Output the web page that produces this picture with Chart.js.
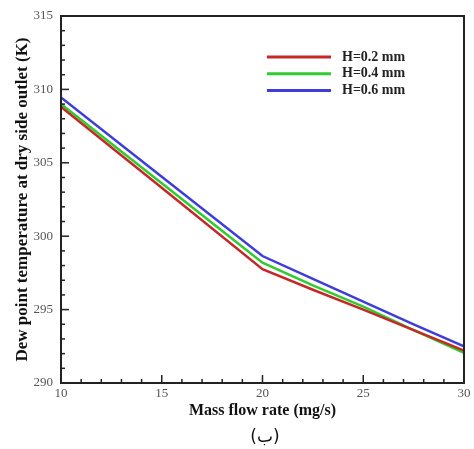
<!DOCTYPE html>
<html>
<head>
<meta charset="utf-8">
<script src="https://cdn.jsdelivr.net/npm/chart.js@4"></script>
<style>
  body { margin: 0; background: #fff; }
  #wrap { position: relative; width: 474px; height: 449px; }
  #chart { display: block; }
  #caption { position: absolute; left: 240px; top: 426px; width: 50px; text-align: center;
             font: 17px "DejaVu Sans", sans-serif; color: #111; }
</style>
</head>
<body>
<div id="wrap">
  <canvas id="chart" width="474" height="449"></canvas>
  <div id="caption">(ب)</div>
</div>
<script>
// datos
const massFlow = [10, 15, 20, 22.5, 25, 27.5, 30];
const dewH02 = [308.8, 303.3, 297.75, 296.35, 295.0, 293.6, 292.2];
const dewH04 = [309.0, 303.6, 298.2, 296.65, 295.2, 293.6, 292.05];
const dewH06 = [309.45, 304.05, 298.65, 297.1, 295.55, 294.0, 292.5];
const seriesLabels = ['H=0.2 mm', 'H=0.4 mm', 'H=0.6 mm'];
const seriesColors = ['#c62828', '#2fcc2f', '#3d3ddc'];

const serif = '"Liberation Serif", "Times New Roman", serif';

function toPoints(ys) {
    return massFlow.map((x, i) => ({ x: x, y: ys[i] }));
}

// ticks hacia adentro, marco y leyenda
const framePlugin = {
    id: 'frame',
    afterDraw(chart) {
        const ctx = chart.ctx;
        const a = chart.chartArea;
        const xs = chart.scales.x, ys = chart.scales.y;
        ctx.save();
        ctx.strokeStyle = '#222';
        ctx.lineWidth = 1.5;
        for (let v = 10; v <= 30; v += 1) {
            const px = xs.getPixelForValue(v);
            const len = v % 5 === 0 ? 8 : 4;
            ctx.beginPath();
            ctx.moveTo(px, a.bottom);
            ctx.lineTo(px, a.bottom - len);
            ctx.stroke();
        }
        for (let v = 290; v <= 315; v += 1) {
            const py = ys.getPixelForValue(v);
            const len = v % 5 === 0 ? 8 : 4;
            ctx.beginPath();
            ctx.moveTo(a.left, py);
            ctx.lineTo(a.left + len, py);
            ctx.stroke();
        }
        ctx.lineWidth = 2;
        ctx.strokeRect(a.left, a.top, a.right - a.left, a.bottom - a.top);

        // leyenda
        ctx.font = 'bold 14px ' + serif;
        ctx.textBaseline = 'middle';
        ctx.fillStyle = '#222';
        seriesLabels.forEach((lab, i) => {
            const y = 57 + i * 16.7;
            ctx.strokeStyle = seriesColors[i];
            ctx.lineWidth = 3;
            ctx.beginPath();
            ctx.moveTo(267, y);
            ctx.lineTo(331, y);
            ctx.stroke();
            ctx.fillText(lab, 342, y);
        });
        ctx.restore();
    }
};

new Chart(document.getElementById('chart'), {
    type: 'line',
    data: {
        datasets: [dewH02, dewH04, dewH06].map((d, i) => ({
            label: seriesLabels[i],
            data: toPoints(d),
            borderColor: seriesColors[i],
            borderWidth: 2.5,
            pointRadius: 0,
            tension: 0
        }))
    },
    options: {
        responsive: false,
        animation: false,
        layout: { padding: { top: 16, right: 10, left: 0, bottom: 29 } },
        plugins: { legend: { display: false }, tooltip: { enabled: false } },
        scales: {
            x: {
                type: 'linear', min: 10, max: 30,
                ticks: { stepSize: 5, color: '#555', font: { family: serif, size: 13 }, padding: 3 },
                grid: { display: false, drawTicks: false },
                border: { display: false },
                title: { display: true, text: 'Mass flow rate (mg/s)', color: '#111',
                         font: { family: serif, size: 16, weight: 'bold' }, padding: 0 },
                afterFit(s) { s.height = 37; }
            },
            y: {
                min: 290, max: 315,
                ticks: { stepSize: 5, color: '#555', font: { family: serif, size: 13 }, padding: 8 },
                grid: { display: false, drawTicks: false },
                border: { display: false },
                title: { display: true, text: 'Dew point temperature at dry side outlet (K)', color: '#111',
                         font: { family: serif, size: 17, weight: 'bold' }, padding: { top: 12, bottom: 0 } },
                afterFit(s) { s.width = 61; }
            }
        }
    },
    plugins: [framePlugin]
});
</script>
</body>
</html>
